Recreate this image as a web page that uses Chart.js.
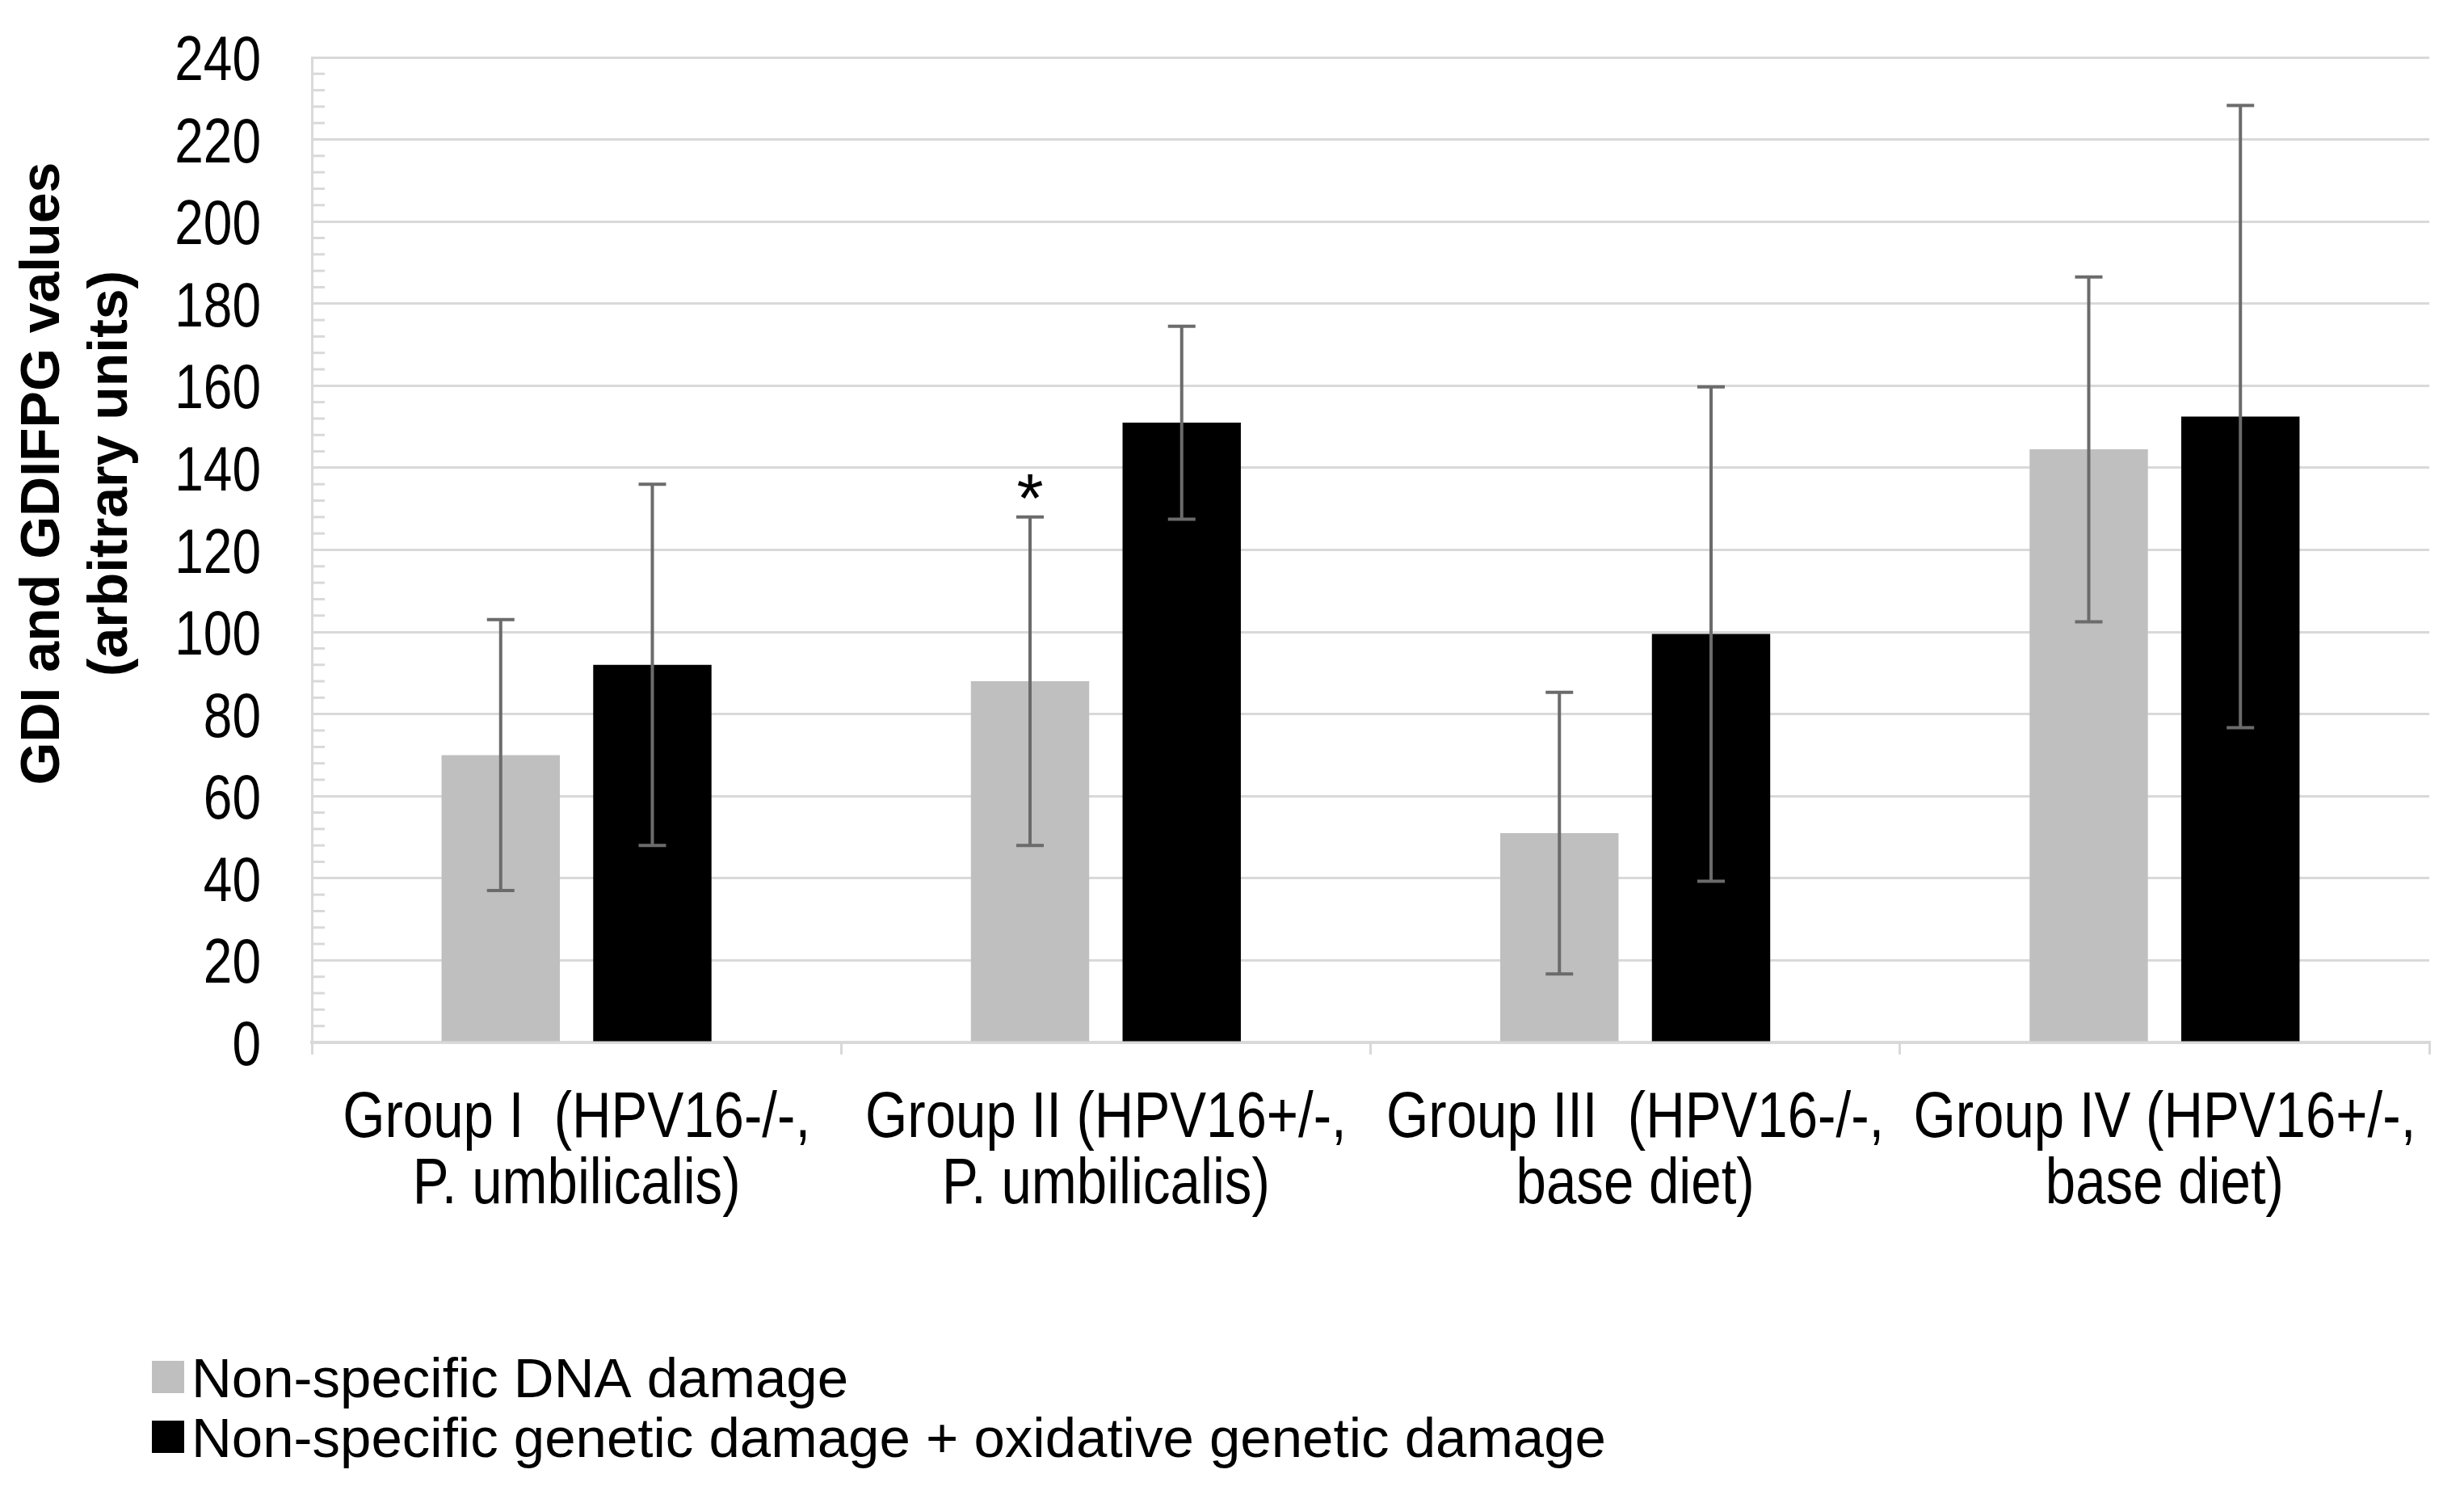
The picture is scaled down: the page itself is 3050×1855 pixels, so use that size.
<!DOCTYPE html>
<html lang="en">
<head>
<meta charset="UTF-8" />
<title>GDI and GDIFPG values</title>
<script src="https://cdn.jsdelivr.net/npm/chart.js"></script>
<style>
  html, body { margin: 0; padding: 0; background: #ffffff; }
  #wrap { width: 3050px; height: 1855px; }
</style>
</head>
<body>
<div id="wrap"><canvas id="gdiChart" width="3050" height="1855"></canvas></div>
<script>
  // values (arbitrary units)
  const groups = [
    ["Group I  (HPV16-/-,", "P. umbilicalis)"],
    ["Group II (HPV16+/-,", "P. umbilicalis)"],
    ["Group III  (HPV16-/-,", "base diet)"],
    ["Group IV (HPV16+/-,", "base diet)"],
  ];
  const seriesNames = [
    "Non-specific DNA damage",
    "Non-specific genetic damage + oxidative genetic damage",
  ];
  const nonSpecific = [70, 88, 51, 144.5];
  const nonSpecificErr = [33, 40, 34.3, 42];
  const combined = [92, 151, 99.5, 152.5];
  const combinedErr = [44, 23.5, 60.2, 75.8];
  const significance = ["", "*", "", ""];
  const yTicks = [0, 20, 40, 60, 80, 100, 120, 140, 160, 180, 200, 220, 240];
  const yTitle = ["GDI and GDIFPG values", "(arbitrary units)"];

  const SANS = '"Liberation Sans", Arial, sans-serif';
  const GRID = "#d9d9d9";

  // no narrow face installed, so labels are condensed by hand
  function narrowText(ctx, text, x, y, align, squeeze) {
    ctx.save();
    ctx.translate(x, y);
    ctx.scale(squeeze, 1);
    ctx.textAlign = align;
    ctx.fillText(text, 0, 0);
    ctx.restore();
  }

  // error bars + significance mark on top of the bars
  const errorBars = {
    id: "errorBars",
    afterDatasetsDraw(chart) {
      const ctx = chart.ctx;
      const y = chart.scales.y;
      ctx.save();
      ctx.strokeStyle = "#6b6b6b";
      ctx.lineWidth = 4;
      chart.data.datasets.forEach((ds, i) => {
        const meta = chart.getDatasetMeta(i);
        meta.data.forEach((bar, j) => {
          const v = ds.data[j];
          const e = ds.errors[j];
          const top = y.getPixelForValue(v + e);
          const bot = y.getPixelForValue(v - e);
          ctx.beginPath();
          ctx.moveTo(bar.x, top);
          ctx.lineTo(bar.x, bot);
          ctx.moveTo(bar.x - 17, top);
          ctx.lineTo(bar.x + 17, top);
          ctx.moveTo(bar.x - 17, bot);
          ctx.lineTo(bar.x + 17, bot);
          ctx.stroke();
          if (i === 0 && significance[j]) {
            ctx.fillStyle = "#000";
            ctx.font = "85px " + SANS;
            ctx.textAlign = "center";
            ctx.textBaseline = "alphabetic";
            ctx.fillText(significance[j], bar.x, top + 6);
          }
        });
      });
      ctx.restore();
    },
  };

  // tick labels, minor ticks, axis title and legend
  const decorations = {
    id: "decorations",
    afterDraw(chart) {
      const ctx = chart.ctx;
      const x = chart.scales.x;
      const y = chart.scales.y;
      const left = chart.chartArea.left;
      ctx.save();
      ctx.strokeStyle = GRID;
      ctx.lineWidth = 3;
      for (let v = 0; v <= 240; v += 4) {
        if (v % 20 === 0) continue;
        const py = y.getPixelForValue(v);
        ctx.beginPath();
        ctx.moveTo(left, py);
        ctx.lineTo(left + 16, py);
        ctx.stroke();
      }

      ctx.fillStyle = "#000";
      ctx.textBaseline = "alphabetic";
      ctx.font = "78px " + SANS;
      y.ticks.forEach((t) => {
        narrowText(ctx, String(t.value), 323, y.getPixelForValue(t.value) + 28, "right", 0.82);
      });
      ctx.font = "80px " + SANS;
      chart.data.labels.forEach((lines, i) => {
        const px = x.getPixelForValue(i);
        lines.forEach((line, k) => {
          narrowText(ctx, line, px, 1407 + k * 82, "center", 0.84);
        });
      });

      // rotated axis title
      ctx.font = "bold 68px " + SANS;
      ctx.textAlign = "center";
      ctx.textBaseline = "middle";
      const titleX = [54, 138];
      yTitle.forEach((line, k) => {
        ctx.save();
        ctx.translate(titleX[k], 586);
        ctx.rotate(-Math.PI / 2);
        ctx.fillText(line, 0, 0);
        ctx.restore();
      });

      // legend, stacked
      ctx.font = "69px " + SANS;
      ctx.textAlign = "left";
      chart.data.datasets.forEach((ds, i) => {
        const by = 1684 + i * 74;
        ctx.fillStyle = ds.backgroundColor;
        ctx.fillRect(188, by, 40, 40);
        ctx.fillStyle = "#000";
        ctx.fillText(ds.label, 237, by + 26);
      });
      ctx.restore();
    },
  };

  const ctx = document.getElementById("gdiChart").getContext("2d");
  new Chart(ctx, {
    type: "bar",
    data: {
      labels: groups,
      datasets: [
        {
          label: seriesNames[0],
          data: nonSpecific,
          errors: nonSpecificErr,
          backgroundColor: "#bfbfbf",
        },
        {
          label: seriesNames[1],
          data: combined,
          errors: combinedErr,
          backgroundColor: "#000000",
        },
      ],
    },
    options: {
      responsive: false,
      devicePixelRatio: 1,
      animation: false,
      categoryPercentage: 0.573,
      barPercentage: 0.78,
      layout: { padding: { left: 0, right: 43, top: 71, bottom: 0 } },
      plugins: {
        legend: { display: false },
        tooltip: { enabled: false },
      },
      scales: {
        x: {
          grid: {
            offset: true,
            drawOnChartArea: false,
            drawTicks: true,
            tickLength: 15,
            color: GRID,
            lineWidth: 3,
          },
          border: { color: GRID, width: 4 },
          ticks: { display: false },
          afterFit(axis) {
            axis.height = 565;
            axis.paddingLeft = 0;
            axis.paddingRight = 0;
          },
        },
        y: {
          min: 0,
          max: 240,
          afterBuildTicks(axis) {
            axis.ticks = yTicks.map((v) => ({ value: v }));
          },
          grid: { color: GRID, lineWidth: 3, drawTicks: false },
          border: { color: GRID, width: 3 },
          ticks: { display: false },
          afterFit(axis) {
            axis.width = 386;
            axis.paddingTop = 0;
            axis.paddingBottom = 0;
          },
        },
      },
    },
    plugins: [errorBars, decorations],
  });
</script>
</body>
</html>
